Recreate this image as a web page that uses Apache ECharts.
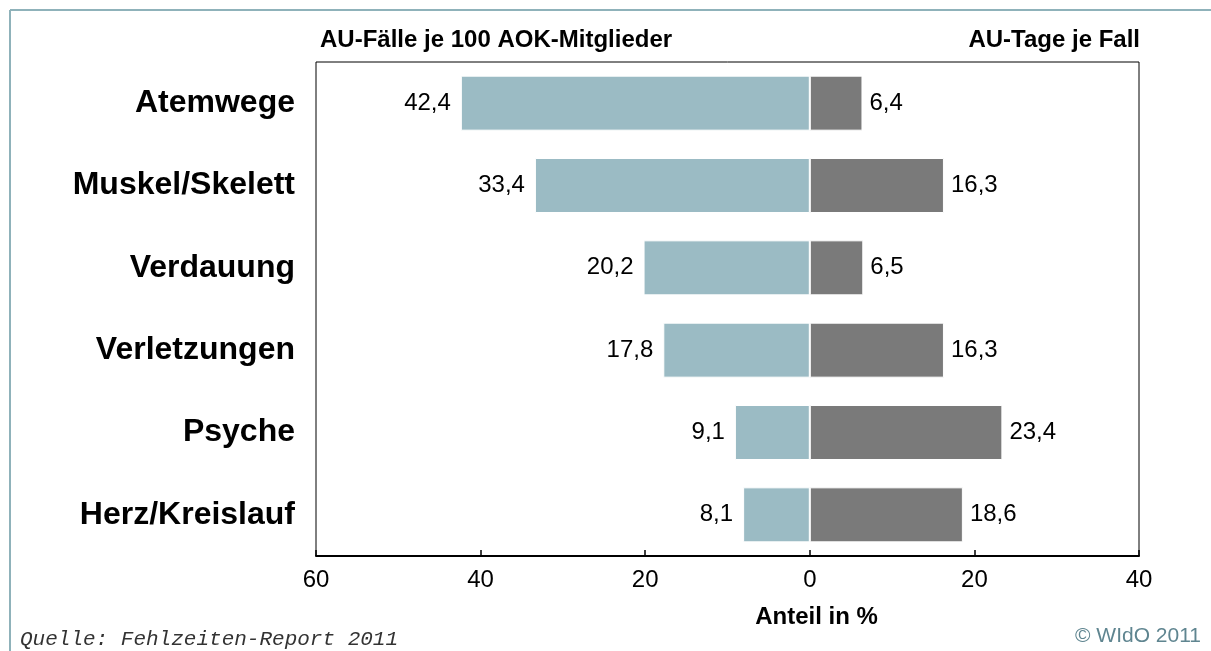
<!DOCTYPE html>
<html>
<head>
<meta charset="utf-8">
<script src="https://cdn.jsdelivr.net/npm/echarts@6/dist/echarts.min.js"></script>
<style>html,body{margin:0;padding:0;background:#fff;}#c{width:1211px;height:651px;}</style>
</head>
<body>
<div id="c"></div>
<script>
const categories = ['Atemwege', 'Muskel/Skelett', 'Verdauung', 'Verletzungen', 'Psyche', 'Herz/Kreislauf'];
const auFaelle = [42.4, 33.4, 20.2, 17.8, 9.1, 8.1];
const auTage = [6.4, 16.3, 6.5, 16.3, 23.4, 18.6];
const leftHeader = 'AU-Fälle je 100 AOK-Mitglieder';
const rightHeader = 'AU-Tage je Fall';
const axisTitle = 'Anteil in %';
const source = 'Quelle: Fehlzeiten-Report 2011';
const copyright = '© WIdO 2011';

const fmt = v => Math.abs(v).toFixed(1).replace('.', ',');
const chart = echarts.init(document.getElementById('c'));
const F = '"Liberation Sans", Arial, sans-serif';
chart.setOption({
  animation: false,
  textStyle: { fontFamily: F },
  grid: { left: 316, right: 72, top: 62, bottom: 95, show: true, borderColor: '#000', borderWidth: 1 },
  xAxis: {
    type: 'value', min: -60, max: 40, interval: 20,
    splitLine: { show: false },
    axisLine: { show: true, lineStyle: { color: '#000', width: 2 } },
    axisTick: { show: true, inside: true, length: 6, lineStyle: { color: '#000', width: 1.5 } },
    axisLabel: { formatter: v => Math.abs(v), fontSize: 24, color: '#000', margin: 12, fontFamily: F },
    name: axisTitle, nameLocation: 'middle', nameGap: 49,
    nameTextStyle: { fontSize: 24, fontWeight: 'bold', color: '#000', fontFamily: F, padding: [0, 0, 0, 178] }
  },
  yAxis: {
    type: 'category', data: categories, inverse: true,
    axisLine: { show: false }, axisTick: { show: false },
    axisLabel: { fontSize: 32, fontWeight: 'bold', color: '#000', margin: 21, fontFamily: F }
  },
  series: [
    {
      type: 'bar', stack: 'a', barWidth: 55,
      data: auFaelle.map(v => -v),
      itemStyle: { color: '#9BBBC4', borderColor: '#fff', borderWidth: 1 },
      label: { show: true, position: 'left', distance: 10, formatter: p => fmt(p.value), fontSize: 24, color: '#000', fontFamily: F }
    },
    {
      type: 'bar', stack: 'a', barWidth: 55,
      data: auTage,
      itemStyle: { color: '#7A7A7A', borderColor: '#fff', borderWidth: 1 },
      label: { show: true, position: 'right', distance: 7, formatter: p => fmt(p.value), fontSize: 24, color: '#000', fontFamily: F }
    }
  ],
  graphic: [
    { type: 'line', shape: { x1: 10, y1: 10, x2: 1211, y2: 10 }, style: { stroke: '#8FB2BA', lineWidth: 2 } },
    { type: 'line', shape: { x1: 10, y1: 10, x2: 10, y2: 651 }, style: { stroke: '#8FB2BA', lineWidth: 2 } },
    { type: 'text', left: 320, top: 28, style: { text: leftHeader, font: 'bold 24px "Liberation Sans", Arial', fill: '#000' } },
    { type: 'text', right: 71, top: 28, style: { text: rightHeader, font: 'bold 24px "Liberation Sans", Arial', fill: '#000', textAlign: 'right' } },
    { type: 'text', left: 20, top: 629, style: { text: source, font: 'italic 21px "Liberation Mono", "Courier New", monospace', fill: '#333' } },
    { type: 'text', right: 10, top: 626, style: { text: copyright, font: '21px "Liberation Sans", Arial', fill: '#5F8590', textAlign: 'right' } }
  ]
});
</script>
</body>
</html>
